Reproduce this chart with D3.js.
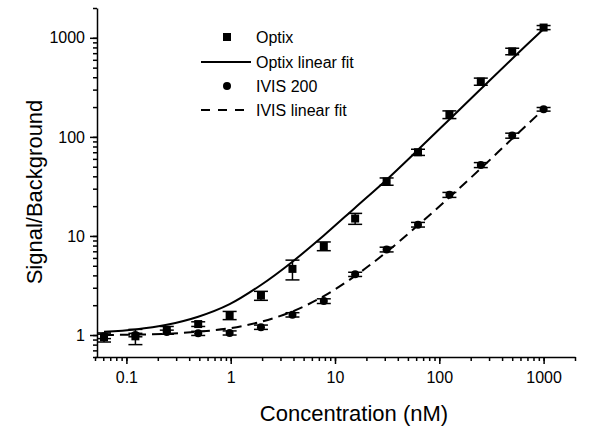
<!DOCTYPE html>
<html>
<head>
<meta charset="utf-8">
<script src="https://cdn.jsdelivr.net/npm/d3@7"></script>
<style>
  html, body { margin: 0; padding: 0; background: #fff; }
  svg { display: block; font-family: "Liberation Sans", Arial, sans-serif; }
  .axis path, .axis line { stroke: #000; stroke-width: 1.5; }
  .axis text { font-size: 16px; fill: #000; }
</style>
</head>
<body>
<svg id="chart" width="616" height="436"></svg>
<script>
// concentrations (nM), two-fold dilution series
const conc = [0.061, 0.122, 0.244, 0.488, 0.977, 1.95, 3.91, 7.81, 15.6, 31.25, 62.5, 125, 250, 500, 1000];

const optix    = [0.95, 0.97, 1.12, 1.29, 1.58, 2.5, 4.65, 7.9, 15, 35.5, 70, 168, 362, 730, 1270];
const optixErr = [0.1, 0.17, 0.1, 0.07, 0.15, 0.26, 1.05, 0.8, 1.9, 3, 5, 15, 30, 55, 60];
const optixFit = [1.08, 1.14, 1.27, 1.53, 2.05, 3.2, 5.5, 10.1, 19.3, 37, 74, 150, 305, 615, 1230];

const ivis    = [0.97, 1.0, 1.07, 1.04, 1.05, 1.2, 1.6, 2.2, 4.1, 7.3, 13, 26, 52, 103, 190];
const ivisErr = [0.05, 0.04, 0.05, 0.05, 0.05, 0.06, 0.08, 0.12, 0.2, 0.4, 0.7, 1.5, 3, 6, 8];
const ivisFit = [1.0, 1.01, 1.03, 1.08, 1.17, 1.36, 1.73, 2.47, 3.95, 6.9, 12.8, 24.6, 48, 96, 190];

const xMajor = [0.1, 1, 10, 100, 1000];
const yMajor = [1, 10, 100, 1000];

const svg = d3.select('#chart');

const x = d3.scaleLog().domain([0.05, 2000]).range([95, 575]);
const y = d3.scaleLog().domain([0.6, 2000]).range([357, 8]);

// minor ticks: 1..9 times each decade inside the domain
function minorTicks(scale) {
    const [a, b] = scale.domain();
    const out = [];
    for (let e = -3; e <= 4; e++) {
        for (let m = 1; m <= 9; m++) {
            const v = m * Math.pow(10, e);
            if (v >= a * 0.999 && v <= b * 1.001) out.push(+v.toPrecision(3));
        }
    }
    return out;
}

// X axis
svg.append('g')
    .attr('class', 'axis')
    .attr('transform', 'translate(0,357)')
    .call(d3.axisBottom(x).tickValues(minorTicks(x)).tickSize(4).tickFormat('').tickSizeOuter(0));
svg.append('g')
    .attr('class', 'axis')
    .attr('transform', 'translate(0,357)')
    .call(d3.axisBottom(x).tickValues(xMajor).tickSize(7).tickPadding(8).tickSizeOuter(0)
        .tickFormat(d => d < 1 ? d.toString() : d3.format('d')(d)))
    .call(g => g.select('.domain').remove());

// Y axis
svg.append('g')
    .attr('class', 'axis')
    .attr('transform', 'translate(97,0)')
    .call(d3.axisLeft(y).tickValues(minorTicks(y)).tickSize(4).tickFormat('').tickSizeOuter(0));
svg.append('g')
    .attr('class', 'axis')
    .attr('transform', 'translate(97,0)')
    .call(d3.axisLeft(y).tickValues(yMajor).tickSize(7).tickPadding(5).tickSizeOuter(0)
        .tickFormat(d3.format('d')))
    .call(g => g.select('.domain').remove());

// axis titles
svg.append('text')
    .attr('x', 354).attr('y', 421)
    .attr('text-anchor', 'middle')
    .attr('font-size', 22)
    .text('Concentration (nM)');

svg.append('text')
    .attr('transform', 'translate(42,192) rotate(-90)')
    .attr('text-anchor', 'middle')
    .attr('font-size', 22)
    .text('Signal/Background');

// fit lines
const line = (vals) => d3.line()
    .x((d, i) => x(conc[i]))
    .y(d => y(d))
    .curve(d3.curveCatmullRom.alpha(0.5))(vals);

svg.append('path')
    .attr('d', line(optixFit))
    .attr('fill', 'none')
    .attr('stroke', '#000')
    .attr('stroke-width', 2);

svg.append('path')
    .attr('d', line(ivisFit))
    .attr('fill', 'none')
    .attr('stroke', '#000')
    .attr('stroke-width', 2)
    .attr('stroke-dasharray', '10,6');

// error bars + markers
function errorBars(vals, errs, capW) {
    const g = svg.append('g').attr('stroke', '#000').attr('stroke-width', 1.5);
    vals.forEach((v, i) => {
        const cx = x(conc[i]);
        const lo = y(v - errs[i]);
        const hi = y(v + errs[i]);
        g.append('line').attr('x1', cx).attr('x2', cx).attr('y1', lo).attr('y2', hi);
        g.append('line').attr('x1', cx - capW / 2).attr('x2', cx + capW / 2).attr('y1', lo).attr('y2', lo);
        g.append('line').attr('x1', cx - capW / 2).attr('x2', cx + capW / 2).attr('y1', hi).attr('y2', hi);
    });
}

errorBars(ivis, ivisErr, 14);
svg.append('g').selectAll('circle')
    .data(ivis)
    .join('circle')
    .attr('cx', (d, i) => x(conc[i]))
    .attr('cy', d => y(d))
    .attr('r', 4)
    .attr('fill', '#000');

errorBars(optix, optixErr, 14);
svg.append('g').selectAll('rect')
    .data(optix)
    .join('rect')
    .attr('x', (d, i) => x(conc[i]) - 4)
    .attr('y', d => y(d) - 4)
    .attr('width', 8)
    .attr('height', 8)
    .attr('fill', '#000');

// legend
const legend = svg.append('g').attr('font-size', 16);
const legendRows = [
    { label: 'Optix', kind: 'square', cy: 37 },
    { label: 'Optix linear fit', kind: 'solid', cy: 62 },
    { label: 'IVIS 200', kind: 'circle', cy: 86 },
    { label: 'IVIS linear fit', kind: 'dash', cy: 110 }
];
legendRows.forEach(r => {
    if (r.kind === 'square') {
        legend.append('rect').attr('x', 223).attr('y', r.cy - 4).attr('width', 8).attr('height', 8).attr('fill', '#000');
    } else if (r.kind === 'circle') {
        legend.append('circle').attr('cx', 227).attr('cy', r.cy).attr('r', 4).attr('fill', '#000');
    } else {
        legend.append('line')
            .attr('x1', 201).attr('x2', 251).attr('y1', r.cy).attr('y2', r.cy)
            .attr('stroke', '#000').attr('stroke-width', 2)
            .attr('stroke-dasharray', r.kind === 'dash' ? '9,8' : null);
    }
    legend.append('text')
        .attr('x', 256).attr('y', r.cy)
        .attr('dy', '0.35em')
        .text(r.label);
});
</script>
</body>
</html>
